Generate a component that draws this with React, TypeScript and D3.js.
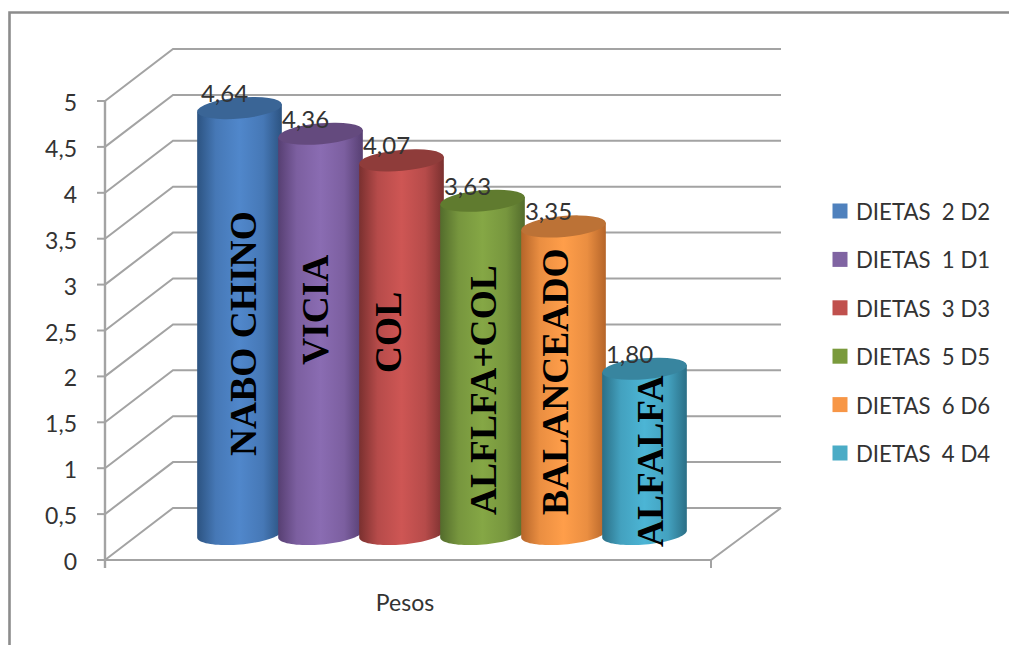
import React from "react";
import * as d3 from "d3";

// Mean weight per diet, in drawing order (left to right).
const dietNames = ["NABO CHINO", "VICIA", "COL", "ALFLFA+COL", "BALANCEADO", "ALFALFA"];
const dietValues = [4.64, 4.36, 4.07, 3.63, 3.35, 1.8];
const legendLabels = ["DIETAS  2 D2", "DIETAS  1 D1", "DIETAS  3 D3", "DIETAS  5 D5", "DIETAS  6 D6", "DIETAS  4 D4"];
const axisValues = [0, 0.5, 1, 1.5, 2, 2.5, 3, 3.5, 4, 4.5, 5];
const categoryTitle = "Pesos";

// Shades for each cylinder: edge, centre, lid, legend swatch.
const edgeColors = ["#2c5381", "#573f72", "#7a302f", "#536c2c", "#b5652a", "#2b6f86"];
const centerColors = ["#5087cb", "#8a6cb2", "#ce5654", "#85a745", "#ff9e4a", "#4cb5d5"];
const lidColors = ["#3a6596", "#644a7e", "#8f3c3a", "#607b2f", "#bc7236", "#38859f"];
const swatchColors = ["#4f81bd", "#8064a2", "#c0504d", "#7a9a3c", "#f79646", "#4bacc6"];

// Baseline x and start y of each rotated name, as offsets from the bar centre and the floor.
const nameOffsetX = [16.5, 7.5, -1, 13, 4.5, 18.5];
const nameOffsetY = [78, 169, 161, 19, 19, -13];

const WIDTH = 1009;
const HEIGHT = 645;
const GRID = "#a3a3a3";
const TEXT = "#333333";
const SANS = "Lato, sans-serif";
const DEPTH_X = 68;
const DEPTH_Y = 52;
const FLOOR_RIGHT = 711;
const AXIS_X = 105;

const y = d3.scaleLinear().domain([0, 5]).range([560, 101]);
const x = d3.scalePoint<string>().domain(dietNames).range([239.5, 644.5]);
const legendY = d3.scalePoint<string>().domain(legendLabels).range([211, 453]);

const RX = 42.5;
const RY = 10.5;
const TILT = (-5 * Math.PI) / 180;
const MID_DEPTH = DEPTH_Y / 2;

// A point on the tilted ellipse of a cylinder's cross-section.
const onEllipse = (cx: number, cy: number, angle: number): [number, number] => {
  const ex = RX * Math.cos(angle);
  const ey = RY * Math.sin(angle);
  return [cx + ex * Math.cos(TILT) - ey * Math.sin(TILT), cy + ex * Math.sin(TILT) + ey * Math.cos(TILT)];
};

const outline = d3.line<[number, number]>();

const bodyPath = (cx: number, top: number, base: number) => {
  const lower = d3.range(0, 41).map((i) => onEllipse(cx, base, Math.PI - (i / 40) * Math.PI));
  return outline([onEllipse(cx, top, Math.PI), ...lower, onEllipse(cx, top, 0)]) + "Z";
};

const decimal = (v: number, digits?: number) =>
  (digits === undefined ? String(v) : v.toFixed(digits)).replace(".", ",");

export default function App() {
  const floorY = y(0);
  const base = floorY - MID_DEPTH;
  return (
    <svg
      width={WIDTH}
      height={HEIGHT}
      viewBox={`0 0 ${WIDTH} ${HEIGHT}`}
      style={{ position: "absolute", left: 0, top: 0, background: "#fff" }}
    >
      <defs>
        {dietNames.map((_, i) => (
          <linearGradient key={i} id={`cyl${i}`} x1="0" x2="1" y1="0" y2="0">
            <stop offset="0" stopColor={edgeColors[i]} />
            <stop offset="0.22" stopColor={d3.interpolateRgb(edgeColors[i], centerColors[i])(0.72)} />
            <stop offset="0.5" stopColor={centerColors[i]} />
            <stop offset="0.78" stopColor={d3.interpolateRgb(edgeColors[i], centerColors[i])(0.72)} />
            <stop offset="1" stopColor={edgeColors[i]} />
          </linearGradient>
        ))}
      </defs>

      {/* Outer chart frame */}
      <path d={`M9.5 ${HEIGHT}V12.5H${WIDTH}`} fill="none" stroke="#8c8c8c" strokeWidth={2.6} />

      {/* Back wall gridlines and their diagonal side-wall runs */}
      {axisValues.map((v) => (
        <path
          key={v}
          d={`M${AXIS_X} ${y(v)}L${AXIS_X + DEPTH_X} ${y(v) - DEPTH_Y}H${FLOOR_RIGHT + 70}`}
          fill="none"
          stroke={GRID}
          strokeWidth={2}
        />
      ))}

      {/* Floor edges, value axis and ticks */}
      <path
        d={`M${AXIS_X} ${floorY}H${FLOOR_RIGHT}L${FLOOR_RIGHT + 70} ${floorY - DEPTH_Y}`}
        fill="none"
        stroke={GRID}
        strokeWidth={2}
      />
      <path d={`M${AXIS_X} ${y(5)}V${floorY + 8}`} stroke={GRID} strokeWidth={2.4} fill="none" />
      <path d={`M${FLOOR_RIGHT} ${floorY}V${floorY + 8}`} stroke={GRID} strokeWidth={2} fill="none" />
      {axisValues.map((v) => (
        <g key={v}>
          <line x1={AXIS_X - 8} x2={AXIS_X} y1={y(v)} y2={y(v)} stroke={GRID} strokeWidth={2} />
          <text
            x={77}
            y={y(v) + 1}
            textAnchor="end"
            dominantBaseline="central"
            fontFamily={SANS}
            fontSize={23}
            fill={TEXT}
          >
            {decimal(v)}
          </text>
        </g>
      ))}

      {/* Cylinders */}
      {dietNames.map((name, i) => {
        const cx = x(name) as number;
        const top = y(dietValues[i]) - MID_DEPTH;
        return (
          <g key={name}>
            <path d={bodyPath(cx, top, base)} fill={`url(#cyl${i})`} />
            <ellipse
              cx={cx}
              cy={top}
              rx={RX}
              ry={RY}
              fill={lidColors[i]}
              transform={`rotate(${(TILT * 180) / Math.PI} ${cx} ${top})`}
            />
          </g>
        );
      })}

      {/* Value labels */}
      {dietNames.map((name, i) => (
        <text
          key={name}
          x={(x(name) as number) - 15}
          y={y(dietValues[i]) - MID_DEPTH - 15.5}
          textAnchor="middle"
          dominantBaseline="central"
          fontFamily={SANS}
          fontSize={24}
          fill={TEXT}
        >
          {decimal(dietValues[i], 2)}
        </text>
      ))}

      {/* Diet names set vertically over the cylinders */}
      {dietNames.map((name, i) => (
        <text
          key={name}
          transform={`translate(${(x(name) as number) + nameOffsetX[i]},${base - nameOffsetY[i]}) rotate(-90)`}
          fontFamily="'Liberation Serif', serif"
          fontWeight={700}
          fontSize={37.5}
          fill="#000"
        >
          {name}
        </text>
      ))}

      <text x={405} y={602} textAnchor="middle" dominantBaseline="central" fontFamily={SANS} fontSize={23} fill={TEXT}>
        {categoryTitle}
      </text>

      {/* Legend */}
      {legendLabels.map((label, i) => {
        const ly = legendY(label) as number;
        return (
          <g key={label}>
            <rect x={832.5} y={ly - 7.5} width={15} height={15} fill={swatchColors[i]} />
            <text
              x={856}
              y={ly + 0.5}
              dominantBaseline="central"
              fontFamily={SANS}
              fontSize={22.2}
              fill={TEXT}
              style={{ whiteSpace: "pre" }}
            >
              {label}
            </text>
          </g>
        );
      })}
    </svg>
  );
}
